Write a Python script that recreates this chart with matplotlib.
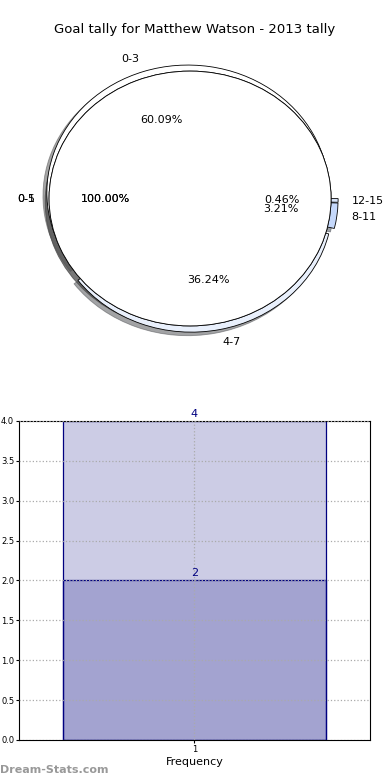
import matplotlib
matplotlib.use("Agg")
import matplotlib.pyplot as plt

title = "Goal tally for Matthew Watson - 2013 tally"

# background pies (one full slice each)
bg_labels_a = ["0-1"]
bg_labels_b = ["0-5"]
bg_values = [100]

# goal tally bins
tally_labels = ["0-3", "4-7", "8-11", "12-15"]
tally_values = [60.09, 36.24, 3.21, 0.46]
tally_colors = ["#ffffff", "#e9f0fc", "#c5d8fb", "#d9e5fa"]

# frequency bars
bar_x = [1, 1]
bar_heights = [4, 2]

fig = plt.figure(figsize=(3.9, 7.8), dpi=100)
fig.text(0.5, 1 - 30 / 780, title, ha="center", va="center", fontsize=9.5)

ax1 = fig.add_axes([0.0535, 0.5495, 0.8677, 0.392])
# exploded tally pie first, full pies drawn over it so only the rims show
ax1.pie(tally_values, labels=tally_labels, colors=tally_colors, autopct="%.2f%%",
        explode=[0.05] * len(tally_values), shadow=True, startangle=0,
        labeldistance=1.1, pctdistance=0.6,
        wedgeprops=dict(edgecolor="black", linewidth=0.6),
        textprops=dict(fontsize=8))
for lab in (bg_labels_a, bg_labels_b):
    ax1.pie(bg_values, labels=lab, colors=["white"], autopct="%.2f%%",
            shadow=True, startangle=0, labeldistance=1.1, pctdistance=0.6,
            wedgeprops=dict(edgecolor="black", linewidth=0.6),
            textprops=dict(fontsize=8))
ax1.set_aspect("auto")
ax1.set_xlim(-1.2, 1.2)
ax1.set_ylim(-1.2, 1.2)
ax1.axis("off")

ax2 = fig.add_axes([0.0487, 0.0513, 0.9, 0.409])
for x, h in zip(bar_x, bar_heights):
    ax2.bar(x, h, width=0.8, color="navy", alpha=0.2, edgecolor="none")
    ax2.bar(x, h, width=0.8, fill=False, edgecolor="navy", linewidth=0.9)
    ax2.text(x, h + 0.03, str(h), ha="center", va="bottom", color="navy", fontsize=8)
ax2.set_xlim(1 - 0.532, 1 + 0.532)
ax2.set_ylim(0, 4)
ax2.set_xticks([1])
ax2.set_yticks([i * 0.5 for i in range(9)])
ax2.tick_params(labelsize=6, length=2, pad=1.5)
ax2.grid(True, linestyle=":", color="#aaaaaa", linewidth=0.9)
ax2.set_axisbelow(False)
ax2.set_xlabel("Frequency", fontsize=8, labelpad=2)

fig.text(0.0, 1 - 770 / 780, "Dream-Stats.com", ha="left", va="center",
         fontsize=8, fontweight="bold", color="#999999")

fig.savefig("out.png", dpi=100)
